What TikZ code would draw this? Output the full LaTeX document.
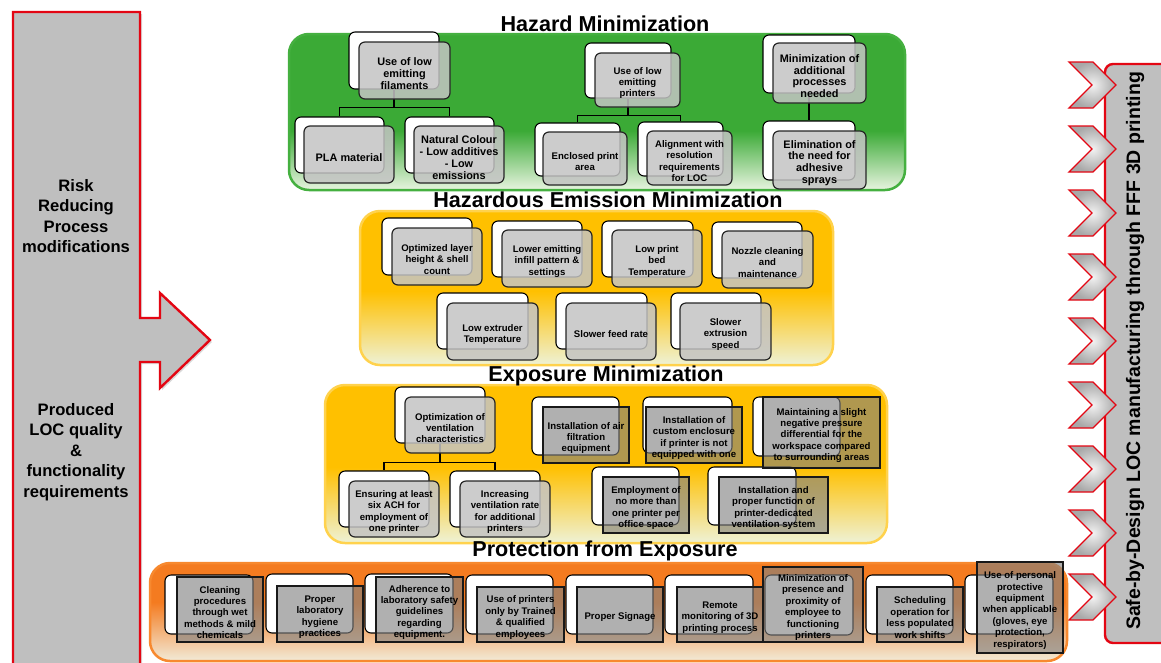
\documentclass[tikz,border=0pt]{standalone}
\usepackage{fontspec}
\setmainfont{Liberation Sans}
\usetikzlibrary{fit,shadows}

\definecolor{armgray}{HTML}{BFBFBF}
\definecolor{armred}{HTML}{E30613}
\definecolor{boxgray}{HTML}{C4C4C4}
\definecolor{hzgreen}{HTML}{3BAA36}
\definecolor{hzedge}{HTML}{45B040}
\definecolor{hzpale}{HTML}{E8F4E0}
\definecolor{emyellow}{HTML}{FFC000}
\definecolor{emedge}{HTML}{FFD24D}
\definecolor{empale}{HTML}{EEF2D6}
\definecolor{prorange}{HTML}{F47B20}
\definecolor{predge}{HTML}{F7892F}
\definecolor{prpale}{HTML}{F2EBD8}

% vertical fades: bottom of the path sits at 25bp, top at 75bp
\pgfdeclareverticalshading{greenpanel}{100bp}{color(0bp)=(hzpale); color(25bp)=(hzpale); color(44bp)=(hzgreen); color(100bp)=(hzgreen)}
\pgfdeclareverticalshading{yellowpanel}{100bp}{color(0bp)=(empale); color(25bp)=(empale); color(49bp)=(emyellow); color(100bp)=(emyellow)}
\pgfdeclareverticalshading{orangepanel}{100bp}{color(0bp)=(prpale); color(25bp)=(prpale); color(55bp)=(prorange); color(100bp)=(prorange)}

\newcommand\txtS{\bfseries\fontsize{9.6}{11.4}\selectfont}
\newcommand\txtM{\bfseries\fontsize{10.9}{11.8}\selectfont}
\newcommand\txtBand{\bfseries\fontsize{21.6}{24}\selectfont}
\newcommand\txtSide{\bfseries\fontsize{16.6}{20.5}\selectfont}
\newcommand\txtGoal{\bfseries\fontsize{19.5}{22}\selectfont}
% caption of a box, centred on the box it belongs to
\newcommand\boxcap[3][]{\node[boxtext,#1] (#2-t) at ([yshift=-3pt]#2.center) {#3};}

\begin{document}
\begin{tikzpicture}[x=1pt,y=-1pt,
  backbox/.style={draw=black, line width=1.1pt, fill=white, rounded corners=6pt, inner sep=0pt},
  frontbox/.style={draw=black!85, line width=1.2pt, fill=boxgray, fill opacity=0.85,
                   rounded corners=6pt, inner sep=0pt},
  frontsq/.style={draw=black!90, line width=1.2pt, fill=black!50, fill opacity=0.62, inner sep=0pt},
  boxtext/.style={align=center, font=\txtS, inner sep=0pt},
  tree/.style={draw=black, line width=1.2pt},
  panel/.style={line width=2.5pt, rounded corners=20pt},
  band/.style={font=\txtBand, inner sep=0pt},
  sidetext/.style={font=\txtSide, align=center, inner sep=0pt},
  chevron/.style={shading=radial, inner color=gray!10, outer color=gray!68},
  chevronedge/.style={draw=armred, line width=1.3pt, line join=miter},
]
\useasboundingbox (0,0) rectangle (1161,662);
\clip (0,0) rectangle (1161,662);

% ---------- left input arrow ----------
\draw[draw=armred, line width=2.4pt, fill=armgray, line join=miter,
      drop shadow={opacity=0.3, shadow xshift=2pt, shadow yshift=-2pt}]
  (13,12) -- (140,12) -- (140,318) -- (160,318) -- (160,293) -- (210,340)
  -- (160,388) -- (160,362) -- (140,362) -- (140,680) -- (13,680) -- cycle;
\node[sidetext] (risk) at (76,216) {Risk\\Reducing\\Process\\modifications};
\node[sidetext] (reqs) at (76,452) {Produced\\LOC quality\\\&\\functionality\\requirements};

% ---------- right output bar ----------
\draw[draw=armred, line width=2.4pt, fill=armgray, rounded corners=8pt]
  (1105,64) rectangle (1180,643);
\node[font=\txtGoal, rotate=90, inner sep=0pt] (goal) at (1135,351)
  {Safe-by-Design LOC manufacturing through FFF 3D printing};
\foreach \i in {0,...,8}{
  \pgfmathsetmacro\t{62+64*\i}
  \path[chevron] (1069,\t) -- (1093,\t) -- (1116,\t+23) -- (1093,\t+46)
    -- (1069,\t+46) -- (1092,\t+23) -- cycle;
  \draw[chevronedge] (1069,\t) -- (1093,\t) -- (1116,\t+23) -- (1093,\t+46)
    -- (1069,\t+46) -- (1092,\t+23) -- cycle;
}

% ---------- Hazard Minimization ----------
\path[panel, draw=hzedge, shading=greenpanel] (289,34) rectangle (905,190);
\node[band] (hzT) at (605,24) {Hazard Minimization};

\node[backbox, fit={(349,32)(439,89)}] (hA-bk) {};
\node[backbox, fit={(295,117)(384,173)}] (hA1-bk) {};
\node[backbox, fit={(405,117)(494,173)}] (hA2-bk) {};
\node[backbox, fit={(585,43)(671,98)}] (hB-bk) {};
\node[backbox, fit={(535,123)(620,176)}] (hB1-bk) {};
\node[backbox, fit={(638,122)(723,176)}] (hB2-bk) {};
\node[backbox, fit={(763,35)(855,93)}] (hC-bk) {};
\node[backbox, fit={(763,121)(855,180)}] (hC1-bk) {};

\draw[tree] (hA-bk.south) -- ++(0,18) -| (hA1-bk.north);
\draw[tree] (hA-bk.south) -- ++(0,18) -| (hA2-bk.north);
\draw[tree] (hB-bk.south) -- ++(0,17) -| (hB1-bk.north);
\draw[tree] (hB-bk.south) -- ++(0,17) -| (hB2-bk.north);
\draw[tree] (hC-bk.south) -- (hC1-bk.north);

\node[frontbox, fit={(359,42)(450,99)}] (hA) {};
\node[frontbox, fit={(304,126)(394,183)}] (hA1) {};
\node[frontbox, fit={(414,126)(504,183)}] (hA2) {};
\node[frontbox, fit={(595,53)(680,107)}] (hB) {};
\node[frontbox, fit={(543,132)(627,185)}] (hB1) {};
\node[frontbox, fit={(647,131)(732,185)}] (hB2) {};
\node[frontbox, fit={(773,43)(866,103)}] (hC) {};
\node[frontbox, fit={(773,131)(866,189)}] (hC1) {};

\boxcap[font=\txtM]{hA}{Use of low\\emitting\\filaments}
\boxcap[font=\txtM]{hA1}{PLA material}
\boxcap[font=\txtM]{hA2}{Natural Colour\\- Low additives\\- Low\\emissions}
\boxcap{hB}{Use of low\\emitting\\printers}
\boxcap{hB1}{Enclosed print\\area}
\boxcap{hB2}{Alignment with\\resolution\\requirements\\for LOC}
\boxcap[font=\txtM]{hC}{Minimization of\\additional\\processes\\needed}
\boxcap[font=\txtM]{hC1}{Elimination of\\the need for\\adhesive\\sprays}

% ---------- Hazardous Emission Minimization ----------
\path[panel, draw=emedge, shading=yellowpanel] (360,211) rectangle (833,365);
\node[band] (emT) at (608,200) {Hazardous Emission Minimization};

\node[backbox, fit={(382,218)(472,275)}] (e1-bk) {};
\node[backbox, fit={(492,221)(582,277)}] (e2-bk) {};
\node[backbox, fit={(602,221)(693,277)}] (e3-bk) {};
\node[backbox, fit={(712,222)(802,278)}] (e4-bk) {};
\node[backbox, fit={(437,293)(528,349)}] (e5-bk) {};
\node[backbox, fit={(556,293)(647,349)}] (e6-bk) {};
\node[backbox, fit={(671,293)(761,349)}] (e7-bk) {};

\node[frontbox, fit={(392,228)(482,285)}] (e1) {};
\node[frontbox, fit={(502,230)(592,287)}] (e2) {};
\node[frontbox, fit={(612,230)(702,287)}] (e3) {};
\node[frontbox, fit={(722,231)(813,288)}] (e4) {};
\node[frontbox, fit={(447,303)(538,360)}] (e5) {};
\node[frontbox, fit={(566,303)(656,360)}] (e6) {};
\node[frontbox, fit={(680,303)(771,360)}] (e7) {};

\boxcap{e1}{Optimized layer\\height \& shell\\count}
\boxcap{e2}{Lower emitting\\infill pattern \&\\settings}
\boxcap{e3}{Low print\\bed\\Temperature}
\boxcap{e4}{Nozzle cleaning\\and\\maintenance}
\boxcap{e5}{Low extruder\\Temperature}
\boxcap{e6}{Slower feed rate}
\boxcap{e7}{Slower\\extrusion\\speed}

% ---------- Exposure Minimization ----------
\path[panel, draw=emedge, shading=yellowpanel] (325,385) rectangle (887,543);
\node[band] (exT) at (606,376) {Exposure Minimization};

\node[backbox, fit={(395,387)(485,443)}] (xA-bk) {};
\node[backbox, fit={(339,471)(429,527)}] (xA1-bk) {};
\node[backbox, fit={(450,471)(540,527)}] (xA2-bk) {};
\node[backbox, fit={(532,397)(619,455)}] (x2-bk) {};
\node[backbox, fit={(643,397)(732,453)}] (x3-bk) {};
\node[backbox, fit={(753,397)(840,456)}] (x4-bk) {};
\node[backbox, fit={(592,467)(679,525)}] (x5-bk) {};
\node[backbox, fit={(708,467)(796,525)}] (x6-bk) {};

\draw[tree] (xA-bk.south) -- ++(0,19) -| (xA1-bk.north);
\draw[tree] (xA-bk.south) -- ++(0,19) -| (xA2-bk.north);

\node[frontbox, fit={(405,397)(495,453)}] (xA) {};
\node[frontbox, fit={(349,481)(439,537)}] (xA1) {};
\node[frontbox, fit={(460,481)(550,537)}] (xA2) {};
\node[frontsq, fit={(543,407)(629,463)}] (x2) {};
\node[frontsq, fit={(646,407)(742,463)}] (x3) {};
\node[frontsq, fit={(763,397)(880,468)}] (x4) {};
\node[frontsq, fit={(603,477)(689,533)}] (x5) {};
\node[frontsq, fit={(719,477)(828,533)}] (x6) {};

\boxcap{xA}{Optimization of\\ventilation\\characteristics}
\boxcap{xA1}{Ensuring at least\\six ACH for\\employment of\\one printer}
\boxcap{xA2}{Increasing\\ventilation rate\\for additional\\printers}
\boxcap{x2}{Installation of air\\filtration\\equipment}
\boxcap{x3}{Installation of\\custom enclosure\\if printer is not\\equipped with one}
\boxcap{x4}{Maintaining a slight\\negative pressure\\differential for the\\workspace compared\\to surrounding areas}
\boxcap{x5}{Employment of\\no more than\\one printer per\\office space}
\boxcap{x6}{Installation and\\proper function of\\printer-dedicated\\ventilation system}

% ---------- Protection from Exposure ----------
\path[panel, draw=predge, shading=orangepanel] (150,563) rectangle (1067,661);
\node[band] (prT) at (605,551) {Protection from Exposure};

\node[backbox, fit={(165,575)(253,634)}] (p1-bk) {};
\node[backbox, fit={(266,574)(353,633)}] (p2-bk) {};
\node[backbox, fit={(365,574)(453,633)}] (p3-bk) {};
\node[backbox, fit={(466,575)(553,634)}] (p4-bk) {};
\node[backbox, fit={(566,575)(653,634)}] (p5-bk) {};
\node[backbox, fit={(665,575)(753,634)}] (p6-bk) {};
\node[backbox, fit={(765,575)(853,635)}] (p7-bk) {};
\node[backbox, fit={(866,575)(953,634)}] (p8-bk) {};
\node[backbox, fit={(965,575)(1053,634)}] (p9-bk) {};

\node[frontsq, fit={(177,577)(263,642)}] (p1) {};
\node[frontsq, fit={(277,586)(363,642)}] (p2) {};
\node[frontsq, fit={(376,577)(463,642)}] (p3) {};
\node[frontsq, fit={(477,587)(564,642)}] (p4) {};
\node[frontsq, fit={(577,587)(663,642)}] (p5) {};
\node[frontsq, fit={(677,587)(763,642)}] (p6) {};
\node[frontsq, fit={(763,567)(863,642)}] (p7) {};
\node[frontsq, fit={(877,587)(963,642)}] (p8) {};
\node[frontsq, fit={(977,562)(1063,653)}] (p9) {};

\boxcap{p1}{Cleaning\\procedures\\through wet\\methods \& mild\\chemicals}
\boxcap{p2}{Proper\\laboratory\\hygiene\\practices}
\boxcap{p3}{Adherence to\\laboratory safety\\guidelines\\regarding\\equipment.}
\boxcap{p4}{Use of printers\\only by Trained\\\& qualified\\employees}
\boxcap{p5}{Proper Signage}
\boxcap{p6}{Remote\\monitoring of 3D\\printing process}
\boxcap{p7}{Minimization of\\presence and\\proximity of\\employee to\\functioning\\printers}
\boxcap{p8}{Scheduling\\operation for\\less populated\\work shifts}
\boxcap{p9}{Use of personal\\protective\\equipment\\when applicable\\(gloves, eye\\protection,\\respirators)}
\end{tikzpicture}
\end{document}
